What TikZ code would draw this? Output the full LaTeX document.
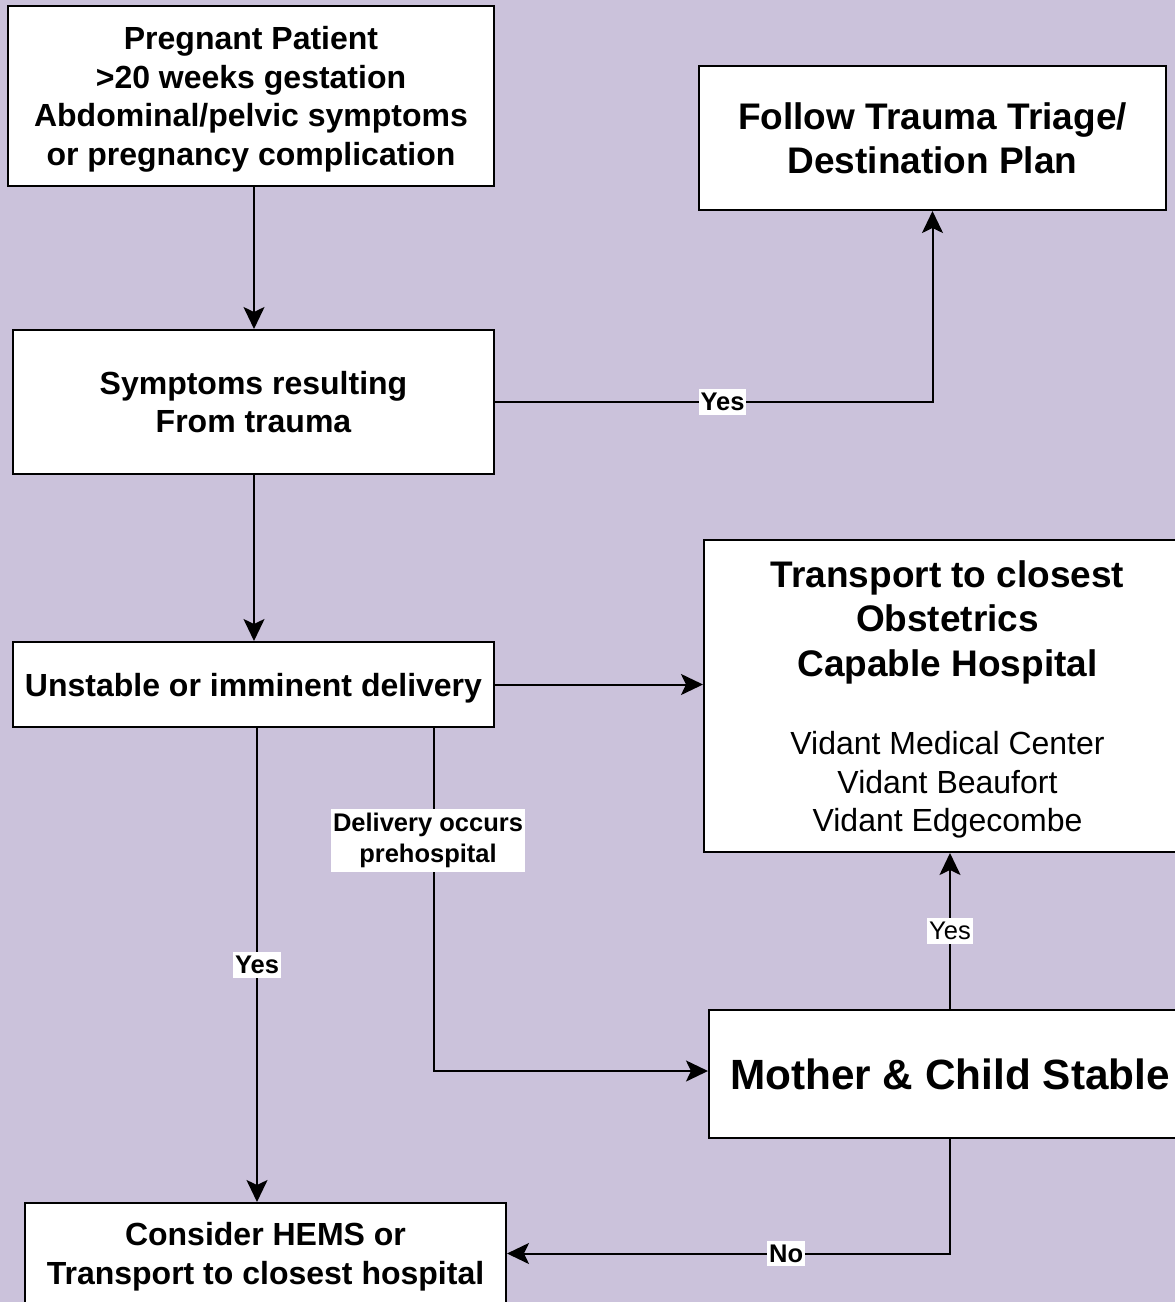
\documentclass[tikz,border=0pt]{standalone}
\usepackage{fontspec}
\setmainfont{Liberation Sans}
\usetikzlibrary{arrows.meta}
\definecolor{bgc}{RGB}{203,194,219}
\begin{document}
\begin{tikzpicture}[x=1pt,y=-1pt,
  box/.style={draw=black, line width=2pt, fill=white, align=center, inner sep=0pt, text depth=0pt},
  txt/.style={align=center, inner sep=0pt, text depth=0pt},
  bf32/.style={font=\fontsize{32}{38.4}\selectfont\bfseries},
  bf37/.style={font=\fontsize{37}{44.5}\selectfont\bfseries},
  rg32/.style={font=\fontsize{32}{38.5}\selectfont},
  arr/.style={draw=black, line width=2pt, -{Stealth[length=22pt,width=21pt,inset=5pt]}},
  lab/.style={fill=white, inner xsep=2pt, inner ysep=4pt, align=center, font=\fontsize{25.5}{31}\selectfont\bfseries},
  labr/.style={lab, font=\fontsize{25.5}{31}\selectfont}
]
\useasboundingbox (0,0) rectangle (1175,1302);
\fill[bgc] (0,0) rectangle (1175,1302);
\clip (0,0) rectangle (1175,1302);

\node[box, bf32, minimum width=486pt, minimum height=180pt] (b1) at (251,96)
  {Pregnant Patient\\>20 weeks gestation\\Abdominal/pelvic symptoms\\or pregnancy complication};
\node[box, bf37, minimum width=467pt, minimum height=144pt] (b2) at (932.5,138)
  {Follow Trauma Triage/\\Destination Plan};
\node[box, bf32, minimum width=481pt, minimum height=144pt] (b3) at (253.5,402)
  {Symptoms resulting\\From trauma};
\node[box, bf32, minimum width=481pt, minimum height=85pt] (b4) at (253.5,684.5)
  {Unstable or imminent delivery};
\node[box, minimum width=487pt, minimum height=312pt] (b5) at (947.5,696) {};
\node[txt, bf37] (t5a) at (947.5,618.5) {Transport to closest\\Obstetrics\\Capable Hospital};
\node[txt, rg32] (t5b) at (947.5,781.5) {Vidant Medical Center\\Vidant Beaufort\\Vidant Edgecombe};
\node[box, font=\fontsize{42.3}{50}\selectfont\bfseries, minimum width=482pt, minimum height=128pt] (b6) at (950,1074)
  {Mother \& Child Stable};
\node[box, bf32, minimum width=481pt, minimum height=101pt] (b7) at (265.5,1253.5)
  {Consider HEMS or\\Transport to closest hospital};

\coordinate (xa) at (254,0);
\coordinate (xb) at (257,0);
\coordinate (xc) at (434,0);
\coordinate (xe) at (950,0);
\coordinate (yc) at (0,1071);

\draw[arr] (b1.south -| xa) -- (b3.north -| xa);
\draw[arr] (b3.east) -| node[lab, pos=0.26] {Yes} (b2.south);
\draw[arr] (b3.south -| xa) -- (b4.north -| xa);
\draw[arr] (b4.east) -- (b4.east -| b5.west);
\draw[arr] (b4.south -| xb) -- node[lab] {Yes} (b7.north -| xb);
\draw[arr] (b4.south -| xc) |- node[lab, pos=0.164, xshift=-6pt] {Delivery occurs\\prehospital} (b6.west |- yc);
\draw[arr] (b6.north -| xe) -- node[labr] {Yes} (b5.south -| xe);
\draw[arr] (b6.south -| xe) |- node[lab, pos=0.685] {No} (b7.east);
\end{tikzpicture}
\end{document}
